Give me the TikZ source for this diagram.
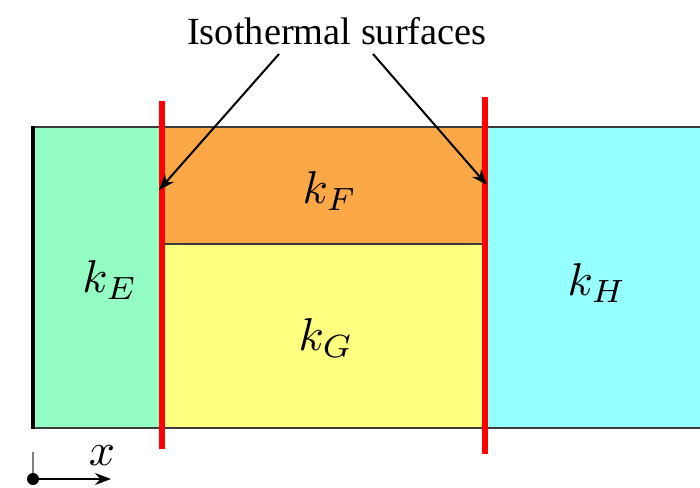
\documentclass[tikz,border=0pt]{standalone}
\usepackage{fontspec}
\setmainfont{Liberation Serif}
\usetikzlibrary{arrows.meta}
\definecolor{cE}{RGB}{148,253,196}
\definecolor{cF}{RGB}{253,168,70}
\definecolor{cG}{RGB}{255,255,128}
\definecolor{cH}{RGB}{150,255,255}
\definecolor{edge}{RGB}{60,60,60}
\tikzset{
  region/.style={draw=edge, line width=1.3pt},
  isoline/.style={red, line width=5.5pt},
  pointer/.style={line width=2pt, -{Stealth[length=16pt,width=12pt]}},
  klabel/.style={scale=4.6, inner sep=0pt},
}
\begin{document}
\begin{tikzpicture}[x=1pt,y=-1pt]
\useasboundingbox (0,0) rectangle (700,487);
\begin{scope}
\clip (0,0) rectangle (700,487);
\filldraw[region, fill=cE] (33,127) rectangle (162,428);
\filldraw[region, fill=cF] (162,127) rectangle (485,244);
\filldraw[region, fill=cG] (162,244) rectangle (485,428);
\filldraw[region, fill=cH] (485,127) rectangle (710,428);
\end{scope}
\draw[line width=3.5pt, black] (33,126.4) -- (33,428.6);
\draw[isoline] (162,101) -- (162,449);
\draw[isoline] (485,97) -- (485,454);
\node[klabel] (kE) at (110,280) {$k_E$};
\node[klabel] (kF) at (330,191) {$k_F$};
\node[klabel] (kG) at (326,338) {$k_G$};
\node[klabel] (kH) at (597,283) {$k_H$};
\node[font=\fontsize{38.4}{40}\selectfont, anchor=base, inner sep=0pt] (title) at (337,45) {Isothermal surfaces};
\coordinate (sL) at (279,54);
\coordinate (tL) at (159,190);
\coordinate (sR) at (373,54);
\coordinate (tR) at (487,185);
\draw[pointer] (sL) -- (tL);
\draw[pointer] (sR) -- (tR);
\coordinate (o) at (33,479);
\coordinate (xe) at (111,479);
\draw[gray, line width=1.2pt] (33,452) -- (o);
\draw[pointer] (o) -- (xe);
\fill (o) circle[radius=6pt];
\node[klabel] (xl) at (102,456) {$x$};
\end{tikzpicture}
\end{document}
